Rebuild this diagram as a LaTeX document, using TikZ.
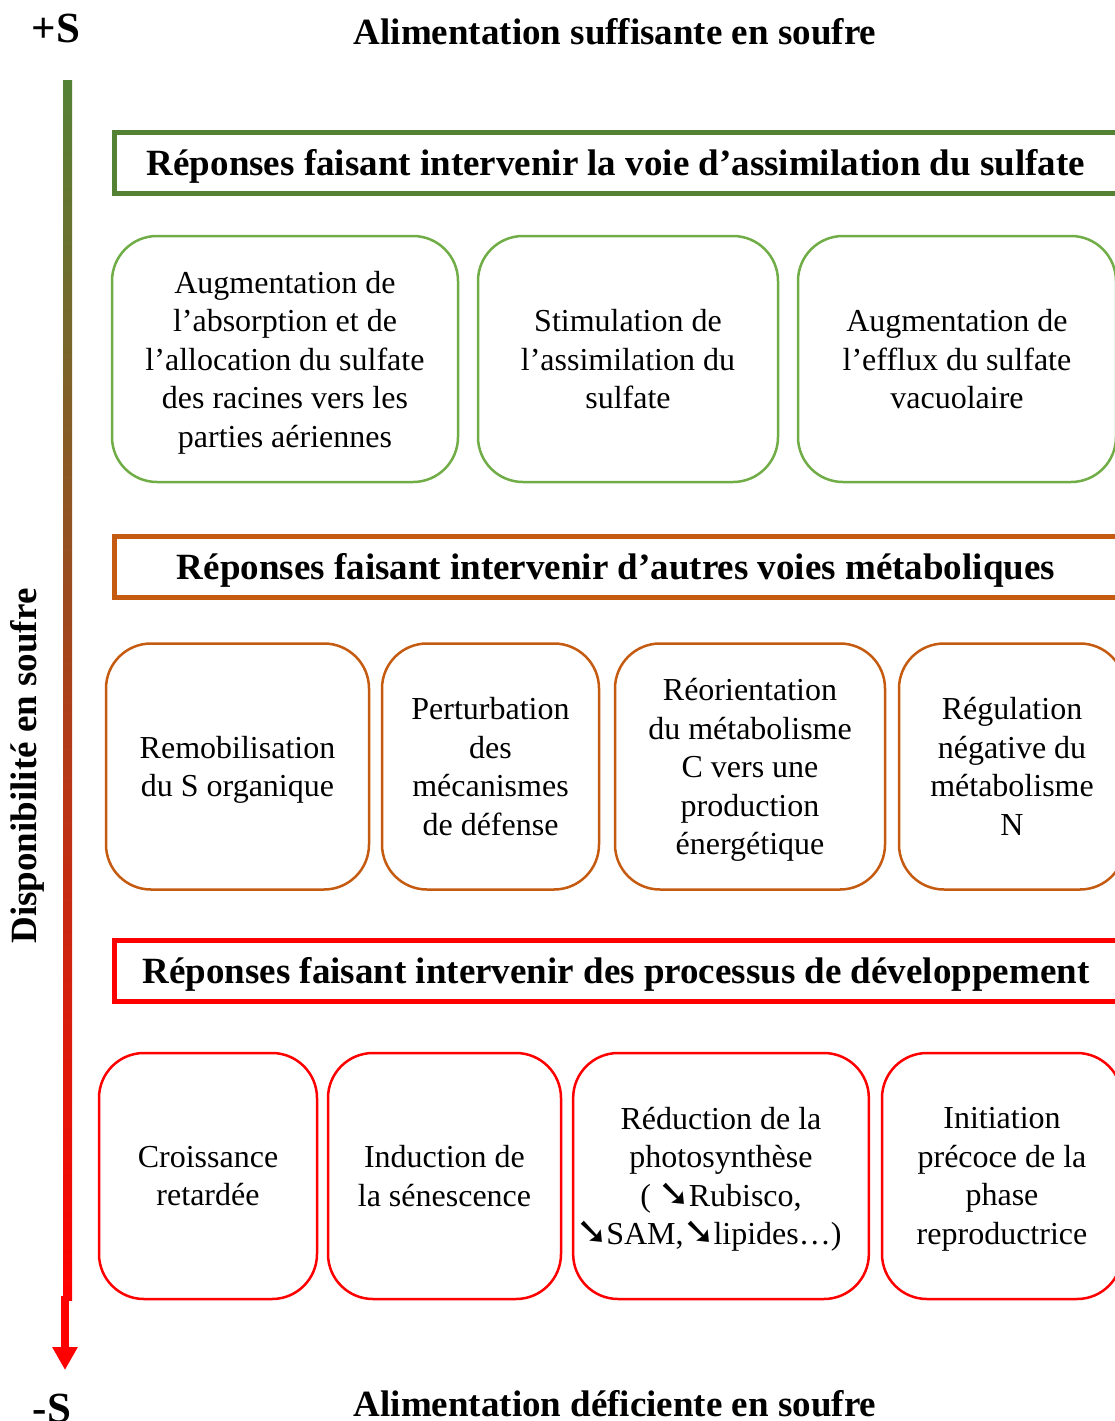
\documentclass[tikz,border=0pt]{standalone}
\usepackage{fontspec}
\setmainfont{Liberation Serif}
\newfontfamily\arrowfont{DejaVu Sans}
\usetikzlibrary{arrows.meta, positioning}

\definecolor{sgreen}{HTML}{548235}
\definecolor{lgreen}{HTML}{70AD47}
\definecolor{sorange}{HTML}{C55A11}
\definecolor{sred}{HTML}{FF0000}

\newcommand{\dnarrow}{{\arrowfont\bfseries\fontsize{38}{38}\selectfont ➘}\kern-2pt}

\tikzset{
	bigtitle/.style={font=\bfseries\fontsize{37}{42}\selectfont},
	header/.style={rectangle,draw,line width=5pt,minimum width=1003pt,minimum height=61pt,bigtitle,
		execute at begin node={\rule{0pt}{33pt}}},
	respbox/.style={rectangle,draw,rounded corners=45pt,line width=2.5pt,minimum height=246pt,align=center,
		font=\fontsize{32}{38.5}\selectfont,text depth=-3pt},
}

\begin{document}
\begin{tikzpicture}[x=1pt,y=-1pt]
		%\draw[gray,step=100] (0,0) grid (1115,1421);
		\clip (0,0) rectangle (1115,1421);

		\node[font=\bfseries\fontsize{43}{46}\selectfont] (plus) at (56,28) {+S};
		\node[bigtitle] (top) at (615,32) {Alimentation suffisante en soufre};
		\node[font=\bfseries\fontsize{43}{46}\selectfont] (minus) at (52,1408) {-S};
		\node[bigtitle] (bottom) at (615,1404) {Alimentation déficiente en soufre};
		\node[bigtitle,rotate=90] (axis) at (27,766) {Disponibilité en soufre};

		\shade[top color=sgreen,middle color=sorange,bottom color=sred] (63,80) rectangle (72,1300);
		\coordinate (A1) at (65,1296);
		\coordinate (A2) at (65,1370);
		\draw[sred,line width=8pt,-{Triangle[length=23pt,width=24pt]}] (A1) -- (A2);

		\node[header,draw=sgreen] (hsulf) at (616,163) {Réponses faisant intervenir la voie d’assimilation du sulfate};
		\node[respbox,draw=lgreen,minimum width=346pt] (absorb) at (285,359) {Augmentation de\\l’absorption et de\\l’allocation du sulfate\\des racines vers les\\parties aériennes};
		\node[respbox,draw=lgreen,minimum width=300pt] (assim) at (628,359) {Stimulation de\\l’assimilation du\\sulfate};
		\node[respbox,draw=lgreen,minimum width=318pt] (efflux) at (957,359) {Augmentation de\\l’efflux du sulfate\\vacuolaire};

		\node[header,draw=sorange] (hmeta) at (616,567) {Réponses faisant intervenir d’autres voies métaboliques};
		\node[respbox,draw=sorange,minimum width=263pt] (remob) at (237.5,766.5) {Remobilisation\\du S organique};
		\node[respbox,draw=sorange,minimum width=217pt] (defense) at (490.5,766.5) {Perturbation\\des\\mécanismes\\de défense};
		\node[respbox,draw=sorange,minimum width=270pt] (carbon) at (750,766.5) {Réorientation\\du métabolisme\\C vers une\\production\\énergétique};
		\node[respbox,draw=sorange,minimum width=226pt] (nitro) at (1012,766.5) {Régulation\\négative du\\métabolisme\\N};

		\node[header,draw=sred] (hdev) at (616,971) {Réponses faisant intervenir des processus de développement};
		\node[respbox,draw=sred,minimum width=218pt] (growth) at (208,1176) {Croissance\\retardée};
		\node[respbox,draw=sred,minimum width=233pt] (senesc) at (444.5,1176) {Induction de\\la sénescence};
		\node[respbox,draw=sred,minimum width=292pt] (photo) at (721,1176) {Réduction de la\\photosynthèse\\( \dnarrow Rubisco,\\\dnarrow SAM,\dnarrow lipides…)\hspace*{24pt}};
		\node[respbox,draw=sred,minimum width=240pt] (repro) at (1002,1176) {Initiation\\précoce de la\\phase\\reproductrice};

	\end{tikzpicture}
\end{document}
